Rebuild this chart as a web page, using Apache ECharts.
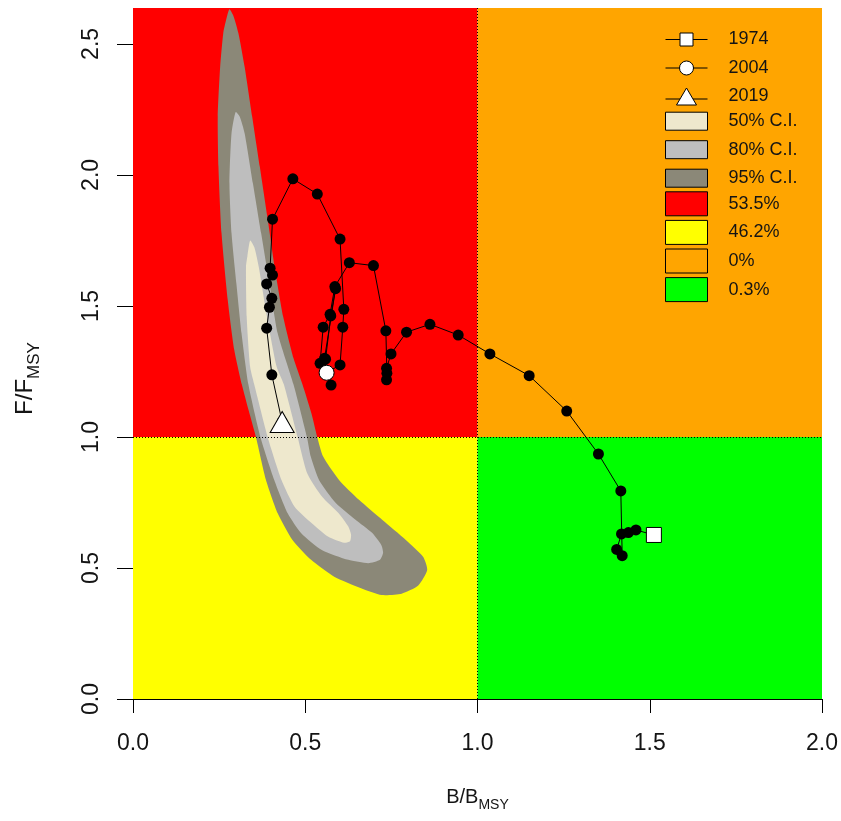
<!DOCTYPE html>
<html>
<head>
<meta charset="utf-8">
<script src="https://cdn.jsdelivr.net/npm/echarts@6/dist/echarts.min.js"></script>
<style>
  html, body { margin: 0; padding: 0; background: #fff; }
  #chart { width: 841px; height: 821px; }
</style>
</head>
<body>
<div id="chart"></div>
<script>
// Stock status trajectory (Kobe plot), 1974-2019
const years = [1974,1975,1976,1977,1978,1979,1980,1981,1982,1983,1984,1985,1986,1987,1988,1989,1990,1991,1992,1993,1994,1995,1996,1997,1998,1999,2000,2001,2002,2003,2004,2005,2006,2007,2008,2009,2010,2011,2012,2013,2014,2015,2016,2017,2018,2019];
const bRatio = [1.512,1.460,1.438,1.418,1.404,1.420,1.416,1.351,1.259,1.150,1.036,0.944,0.862,0.794,0.749,0.736,0.736,0.737,0.734,0.698,0.628,0.586,0.572,0.552,0.543,0.575,0.559,0.574,0.588,0.556,0.562,0.601,0.609,0.612,0.601,0.535,0.464,0.405,0.398,0.405,0.388,0.403,0.396,0.388,0.403,0.433];
const fRatio = [0.626,0.645,0.635,0.630,0.571,0.547,0.794,0.935,1.099,1.234,1.317,1.389,1.430,1.400,1.317,1.262,1.218,1.243,1.405,1.654,1.665,1.574,1.468,1.419,1.281,1.198,1.297,1.462,1.566,1.300,1.245,1.275,1.419,1.487,1.755,1.927,1.985,1.831,1.644,1.618,1.584,1.529,1.495,1.415,1.237,1.057];

// Highlighted years
const markYears = [1974, 2004, 2019];

// Joint posterior confidence regions of the final year, as [B/Bmsy, F/Fmsy] outlines
const ci95 = [[0.280,2.632],[0.270,2.590],[0.262,2.541],[0.253,2.413],[0.246,2.222],[0.248,2.032],[0.257,1.777],[0.275,1.523],[0.294,1.332],[0.316,1.200],[0.336,1.100],[0.357,0.999],[0.386,0.836],[0.420,0.709],[0.463,0.607],[0.517,0.531],[0.584,0.467],[0.662,0.423],[0.722,0.397],[0.780,0.402],[0.828,0.433],[0.854,0.492],[0.842,0.543],[0.792,0.607],[0.724,0.683],[0.656,0.760],[0.598,0.836],[0.552,0.925],[0.535,0.999],[0.518,1.090],[0.492,1.200],[0.466,1.300],[0.436,1.459],[0.411,1.650],[0.390,1.841],[0.368,2.032],[0.346,2.222],[0.324,2.413],[0.306,2.541],[0.292,2.605]];
const ci80 = [[0.298,2.240],[0.286,2.159],[0.280,1.968],[0.286,1.777],[0.300,1.587],[0.315,1.396],[0.335,1.200],[0.370,0.999],[0.410,0.836],[0.449,0.709],[0.489,0.632],[0.548,0.569],[0.625,0.531],[0.683,0.518],[0.717,0.531],[0.726,0.558],[0.721,0.587],[0.694,0.634],[0.645,0.685],[0.588,0.749],[0.540,0.836],[0.516,0.925],[0.505,0.999],[0.466,1.200],[0.420,1.396],[0.396,1.587],[0.372,1.777],[0.348,1.968],[0.324,2.159],[0.310,2.222]];
const ci50 = [[0.340,1.750],[0.332,1.690],[0.328,1.650],[0.330,1.459],[0.340,1.268],[0.352,1.200],[0.391,0.999],[0.431,0.836],[0.469,0.734],[0.519,0.671],[0.567,0.619],[0.613,0.596],[0.630,0.602],[0.633,0.627],[0.625,0.658],[0.597,0.709],[0.549,0.772],[0.506,0.861],[0.478,0.999],[0.438,1.200],[0.417,1.268],[0.389,1.459],[0.365,1.650],[0.352,1.725]];

// Reference points and axis extents
const bRef = 1.0, fRef = 1.0;
const bMax = 2.0, fMax = 2.637;
const xTicks = [0, 0.5, 1.0, 1.5, 2.0];
const yTicks = [0, 0.5, 1.0, 1.5, 2.0, 2.5];

// Probability of the final year falling in each quadrant
const zoneNames = ['53.5%', '46.2%', '0%', '0.3%'];
// Quadrant bounds [bFrom, bTo, fFrom, fTo]
const zoneBounds = [
  [0, bRef, fRef, fMax],
  [0, bRef, 0, fRef],
  [bRef, bMax, fRef, fMax],
  [bRef, bMax, 0, fRef]
];
const zoneColors = ['#FF0000', '#FFFF00', '#FFA500', '#00FF00'];
const ciNames = ['50% C.I.', '80% C.I.', '95% C.I.'];
const ciColors = ['#EEE8CD', '#BEBEBE', '#8B8878'];

const FONT = '"Liberation Sans", Arial, sans-serif';
const INK = '#141414';

const chart = echarts.init(document.getElementById('chart'), null, { renderer: 'canvas' });

function zoneSeries(i) {
  return {
    type: 'custom',
    name: zoneNames[i],
    coordinateSystem: 'cartesian2d',
    silent: true,
    z: 1,
    itemStyle: { color: zoneColors[i] },
    data: [zoneBounds[i]],
    renderItem: function (params, api) {
      const p0 = api.coord([api.value(0), api.value(3)]);
      const p1 = api.coord([api.value(1), api.value(2)]);
      return {
        type: 'rect',
        shape: { x: p0[0], y: p0[1], width: p1[0] - p0[0], height: p1[1] - p0[1] },
        style: { fill: zoneColors[i] }
      };
    }
  };
}

function ciSeries(name, outline, color, z) {
  return {
    type: 'custom',
    name: name,
    coordinateSystem: 'cartesian2d',
    silent: true,
    z: z,
    itemStyle: { color: color },
    data: [[0]],
    renderItem: function (params, api) {
      return {
        type: 'polygon',
        shape: { points: outline.map(function (p) { return api.coord(p); }), smooth: 0.2 },
        style: { fill: color }
      };
    }
  };
}

const trajectory = years.map(function (y, i) { return [bRatio[i], fRatio[i]]; });
function yearPoint(yr) {
  const i = years.indexOf(yr);
  return [[bRatio[i], fRatio[i]]];
}

// Legend icons: line through an open marker
const iconSquare = 'path://M0,7L14.5,7M14.5,0.5L27.5,0.5L27.5,13.5L14.5,13.5ZM27.5,7L42,7';
const iconCircle = 'path://M0,8L14,8M28,8A7,7,0,1,1,14,8A7,7,0,1,1,28,8ZM28,8L42,8';
const iconTriangle = 'path://M0,11L14.5,11M11,17L21,0L31,17ZM27.5,11L42,11';

const legendText = { fontFamily: FONT, fontSize: 18, color: INK, padding: [0, 0, 0, 16] };
const openItem = { color: '#fff', borderColor: '#000', borderWidth: 1, opacity: 1 };

// Axis title "X/X" with an "MSY" subscript
function axisTitle(letter) {
  return '{m|' + letter + '/' + letter + '}{sub|MSY}';
}
function titleRich(size, subSize) {
  return {
    m: { fontFamily: FONT, fontSize: size, color: INK, verticalAlign: 'bottom', padding: [0, 0, Math.round(size * 0.25), 0] },
    sub: { fontFamily: FONT, fontSize: subSize, color: INK, verticalAlign: 'bottom' }
  };
}

const option = {
  animation: false,
  backgroundColor: '#fff',
  grid: { left: 133, top: 8, width: 689, height: 691, containLabel: false, outerBoundsMode: 'none' },
  xAxis: {
    type: 'value', min: 0, max: bMax, interval: 0.5,
    axisLine: { show: true, onZero: false, lineStyle: { color: '#000', width: 1 } },
    axisTick: { show: true, length: 14, customValues: xTicks, lineStyle: { color: '#000', width: 1 } },
    axisLabel: { customValues: xTicks, margin: 33, fontFamily: FONT, fontSize: 23, color: INK,
      formatter: function (v) { return v.toFixed(1); } },
    splitLine: { show: false },
    name: axisTitle('B'),
    nameLocation: 'middle', nameGap: 88,
    nameTextStyle: { rich: titleRich(20, 14) }
  },
  yAxis: {
    type: 'value', min: 0, max: fMax, interval: 0.5,
    axisLine: { show: false },
    axisTick: { show: true, length: 16, customValues: yTicks, lineStyle: { color: '#000', width: 1 } },
    axisLabel: { customValues: yTicks, rotate: 90, margin: 30, fontFamily: FONT, fontSize: 23, color: INK,
      formatter: function (v) { return v.toFixed(1); } },
    splitLine: { show: false },
    name: axisTitle('F'),
    nameLocation: 'middle', nameGap: 90, nameRotate: 90,
    nameTextStyle: { padding: [0, 50, 0, 0], rich: titleRich(24, 17) }
  },
  legend: [
    {
      orient: 'vertical', left: 665, top: 30.5, padding: 0,
      itemWidth: 42, itemHeight: 17, itemGap: 10.5, selectedMode: false,
      textStyle: Object.assign({ lineHeight: 17 }, legendText),
      data: [
        { name: String(markYears[0]), icon: iconSquare, itemStyle: openItem },
        { name: String(markYears[1]), icon: iconCircle, itemStyle: openItem },
        { name: String(markYears[2]), icon: iconTriangle, itemStyle: openItem }
      ]
    },
    {
      orient: 'vertical', left: 665, top: 111.7, padding: 0,
      itemWidth: 42, itemHeight: 18, itemGap: 9.5, selectedMode: false,
      textStyle: Object.assign({ lineHeight: 18 }, legendText),
      data: ciNames.map(function (n, i) {
        return { name: n, icon: 'rect', itemStyle: { color: ciColors[i], borderColor: '#000', borderWidth: 1 } };
      })
    },
    {
      orient: 'vertical', left: 665, top: 191.3, padding: 0,
      itemWidth: 42, itemHeight: 24, itemGap: 3.6, selectedMode: false,
      textStyle: Object.assign({ lineHeight: 24 }, legendText),
      data: zoneNames.map(function (n, i) {
        return { name: n, icon: 'rect', itemStyle: { color: zoneColors[i], borderColor: '#000', borderWidth: 1 } };
      })
    }
  ],
  series: [
    zoneSeries(0), zoneSeries(1), zoneSeries(2), zoneSeries(3),
    ciSeries(ciNames[2], ci95, ciColors[2], 2),
    ciSeries(ciNames[1], ci80, ciColors[1], 2.1),
    ciSeries(ciNames[0], ci50, ciColors[0], 2.2),
    {
      type: 'line', name: 'reference', data: [], z: 3, silent: true,
      markLine: {
        silent: true, symbol: 'none', animation: false,
        label: { show: false },
        lineStyle: { color: '#000', width: 1, type: [1, 2], opacity: 1 },
        data: [{ xAxis: bRef }, { yAxis: fRef }]
      }
    },
    {
      type: 'line', name: 'trajectory', data: trajectory, z: 4, silent: true,
      symbol: 'circle', symbolSize: 11,
      itemStyle: { color: '#000' },
      lineStyle: { color: '#000', width: 1 }
    },
    {
      type: 'scatter', name: String(markYears[0]), data: yearPoint(markYears[0]), z: 5,
      symbol: 'rect', symbolSize: 15, itemStyle: openItem
    },
    {
      type: 'scatter', name: String(markYears[1]), data: yearPoint(markYears[1]), z: 5,
      symbol: 'circle', symbolSize: 15, itemStyle: openItem
    },
    {
      type: 'scatter', name: String(markYears[2]), data: yearPoint(markYears[2]), z: 5,
      symbol: 'triangle', symbolSize: [24, 21], itemStyle: openItem
    }
  ]
};

chart.setOption(option);
</script>
</body>
</html>
